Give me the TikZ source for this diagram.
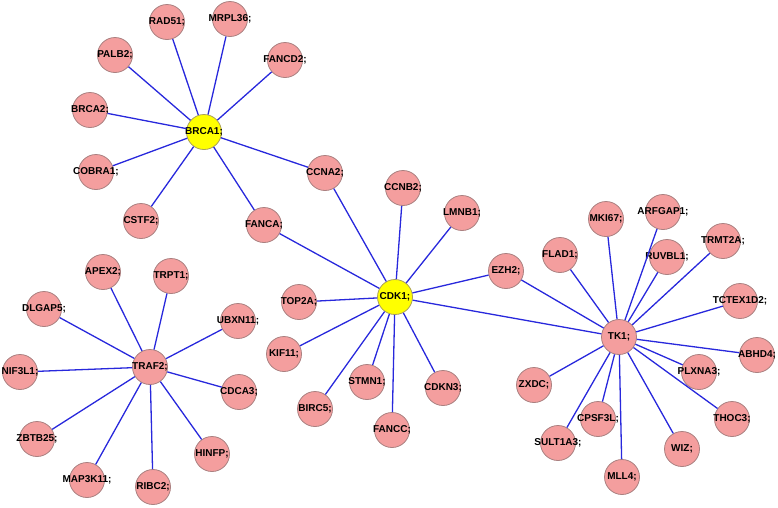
\documentclass[tikz,border=0pt]{standalone}
\usepackage{fontspec}
\setmainfont{Liberation Sans}
\usepackage{tikz}
\usepackage{xcolor}
\usetikzlibrary{positioning}

\definecolor{genepink}{RGB}{244,158,158}
\definecolor{geneedge}{RGB}{170,128,128}
\definecolor{hubyellow}{RGB}{255,255,0}
\definecolor{hubedge}{RGB}{170,160,90}
\definecolor{linkblue}{RGB}{40,40,220}

\begin{document}
\begin{tikzpicture}[x=1pt,y=-1pt,-,
            gene node/.style={circle,draw=geneedge,fill=genepink,line width=0.8pt,
                minimum size=35pt,inner sep=0pt,font=\bfseries\fontsize{10}{11}\selectfont,
                execute at begin node={\hbox to 0pt\bgroup\hss},
                execute at end node={\hss\egroup}},
            hub node/.style={gene node,draw=hubedge,fill=hubyellow}]

        \useasboundingbox (0,0) rectangle (778,507);

        % hubs
        \node[hub node] (BRCA1) at (204,132) {BRCA1;};
        \node[hub node] (CDK1) at (395,297) {CDK1;};
        \node[gene node] (TK1) at (619,337) {TK1;};
        \node[gene node] (TRAF2) at (150,367) {TRAF2;};

        % BRCA1 neighbours
        \node[gene node] (RAD51) at (167,22) {RAD51;};
        \node[gene node] (MRPL36) at (230,19) {MRPL36;};
        \node[gene node] (PALB2) at (115,55) {PALB2;};
        \node[gene node] (FANCD2) at (285,60) {FANCD2;};
        \node[gene node] (BRCA2) at (90,110) {BRCA2;};
        \node[gene node] (COBRA1) at (96,172) {COBRA1;};
        \node[gene node] (CSTF2) at (141,221) {CSTF2;};
        \node[gene node] (CCNA2) at (325,173) {CCNA2;};
        \node[gene node] (FANCA) at (264,225) {FANCA;};

        % CDK1 neighbours
        \node[gene node] (CCNB2) at (403,188) {CCNB2;};
        \node[gene node] (LMNB1) at (462,213) {LMNB1;};
        \node[gene node] (EZH2) at (506,271) {EZH2;};
        \node[gene node] (TOP2A) at (299,302) {TOP2A;};
        \node[gene node] (KIF11) at (284,354) {KIF11;};
        \node[gene node] (BIRC5) at (315,409) {BIRC5;};
        \node[gene node] (STMN1) at (367,382) {STMN1;};
        \node[gene node] (FANCC) at (392,430) {FANCC;};
        \node[gene node] (CDKN3) at (443,388) {CDKN3;};

        % TK1 neighbours
        \node[gene node] (FLAD1) at (560,255) {FLAD1;};
        \node[gene node] (MKI67) at (606,219) {MKI67;};
        \node[gene node] (ARFGAP1) at (663,212) {ARFGAP1;};
        \node[gene node] (RUVBL1) at (667,257) {RUVBL1;};
        \node[gene node] (TRMT2A) at (723,241) {TRMT2A;};
        \node[gene node] (TCTEX1D2) at (740,301) {TCTEX1D2;};
        \node[gene node] (ABHD4) at (757,355) {ABHD4;};
        \node[gene node] (PLXNA3) at (699,372) {PLXNA3;};
        \node[gene node] (THOC3) at (732,419) {THOC3;};
        \node[gene node] (WIZ) at (682,449) {WIZ;};
        \node[gene node] (MLL4) at (622,477) {MLL4;};
        \node[gene node] (CPSF3L) at (598,419) {CPSF3L;};
        \node[gene node] (SULT1A3) at (558,443) {SULT1A3;};
        \node[gene node] (ZXDC) at (534,385) {ZXDC;};

        % TRAF2 neighbours
        \node[gene node] (APEX2) at (103,272) {APEX2;};
        \node[gene node] (TRPT1) at (171,276) {TRPT1;};
        \node[gene node] (DLGAP5) at (44,309) {DLGAP5;};
        \node[gene node] (UBXN11) at (238,321) {UBXN11;};
        \node[gene node] (NIF3L1) at (20,372) {NIF3L1;};
        \node[gene node] (CDCA3) at (239,392) {CDCA3;};
        \node[gene node] (ZBTB25) at (37,439) {ZBTB25;};
        \node[gene node] (HINFP) at (212,454) {HINFP;};
        \node[gene node] (MAP3K11) at (87,480) {MAP3K11;};
        \node[gene node] (RIBC2) at (153,487) {RIBC2;};

        \path[every edge/.style={draw=linkblue,line width=1.3pt}]
        (BRCA1) edge (RAD51) edge (MRPL36) edge (PALB2) edge (FANCD2)
                edge (BRCA2) edge (COBRA1) edge (CSTF2) edge (CCNA2) edge (FANCA)
        (CDK1) edge (CCNA2) edge (FANCA) edge (CCNB2) edge (LMNB1) edge (EZH2)
               edge (TK1) edge (TOP2A) edge (KIF11) edge (BIRC5) edge (STMN1)
               edge (FANCC) edge (CDKN3)
        (TK1) edge (EZH2) edge (FLAD1) edge (MKI67) edge (ARFGAP1) edge (RUVBL1)
              edge (TRMT2A) edge (TCTEX1D2) edge (ABHD4) edge (PLXNA3) edge (THOC3)
              edge (WIZ) edge (MLL4) edge (CPSF3L) edge (SULT1A3) edge (ZXDC)
        (TRAF2) edge (APEX2) edge (TRPT1) edge (DLGAP5) edge (UBXN11) edge (NIF3L1)
                edge (CDCA3) edge (ZBTB25) edge (HINFP) edge (MAP3K11) edge (RIBC2);

    \end{tikzpicture}
\end{document}
